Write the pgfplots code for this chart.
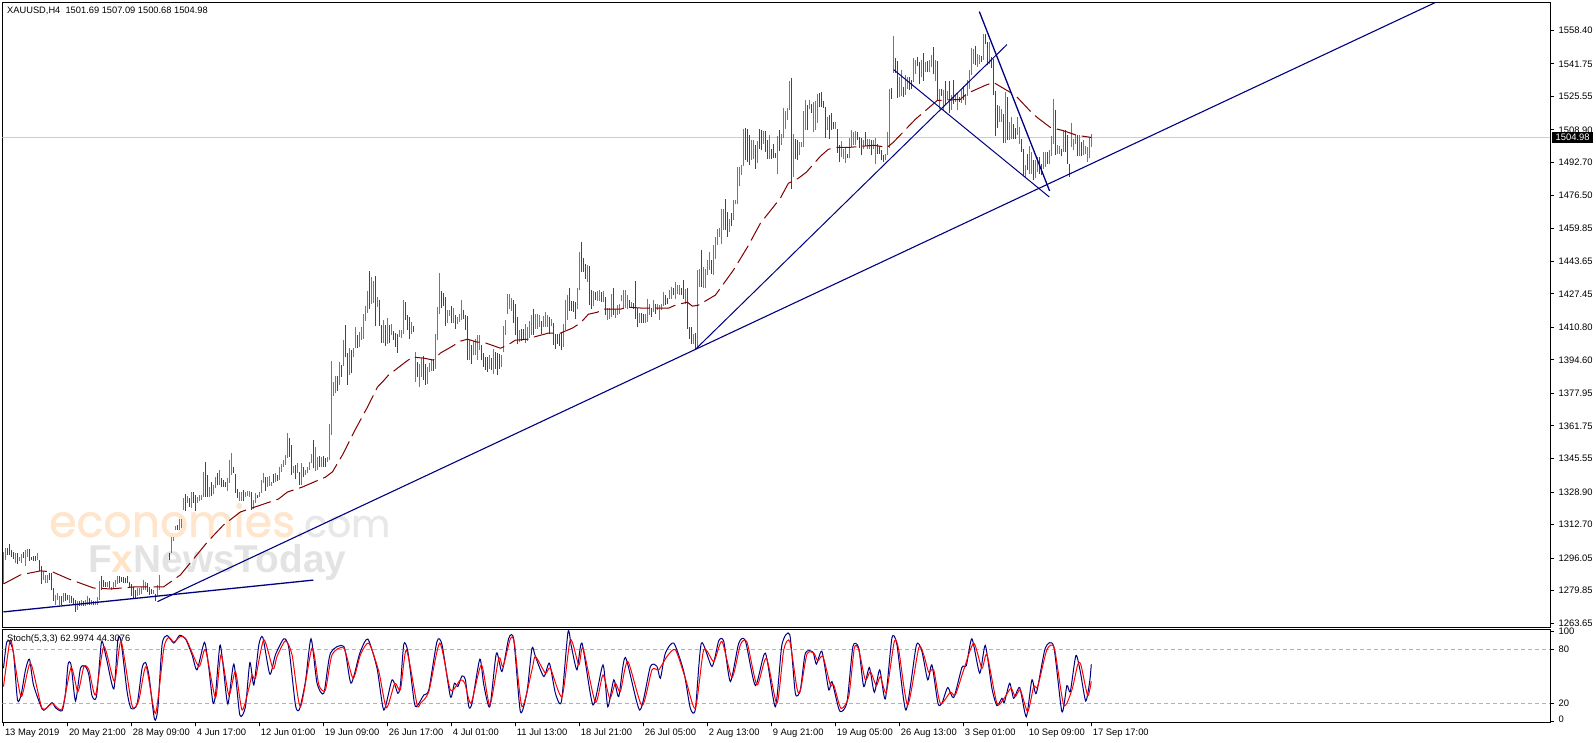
\documentclass[border=0pt]{standalone}
\usepackage{fontspec}
\setmainfont{Liberation Sans}
\newfontfamily\wmfont[FakeBold=1.2]{Poppins}
\usepackage{pgfplots}
\usepackage{pgfplotstable}
\pgfplotsset{compat=1.18}
\definecolor{upbar}{HTML}{4682B4}
\definecolor{dnbar}{HTML}{E80000}
\definecolor{ma}{HTML}{800000}
\definecolor{tl}{HTML}{000080}
\definecolor{lvl}{HTML}{ADD8E6}
\pgfplotstableread[row sep=\\]{
i l h c\\
0 1283.3 1299.3 1\\ 1 1294.9 1301.0 1\\ 2 1297.7 1301.0 0\\ 3 1297.7 1303.1 0\\ 4 1296.8 1300.2 0\\ 5 1295.7 1299.3 0\\ 6 1293.5 1298.5 1\\ 7 1293.2 1298.5 0\\ 8 1294.4 1296.8 1\\ 9 1293.5 1298.2 1\\
10 1296.0 1299.3 0\\ 11 1292.2 1300.2 1\\ 12 1296.8 1300.5 1\\ 13 1294.4 1300.5 0\\ 14 1295.2 1296.8 0\\ 15 1294.4 1297.2 0\\ 16 1294.4 1297.2 0\\ 17 1294.9 1298.5 1\\ 18 1289.4 1295.2 0\\ 19 1283.3 1291.9 0\\
20 1285.2 1289.4 1\\ 21 1283.6 1287.7 1\\ 22 1283.9 1287.7 1\\ 23 1285.2 1288.6 0\\ 24 1280.3 1288.6 0\\ 25 1274.5 1281.1 0\\ 26 1272.8 1277.8 1\\ 27 1275.0 1278.6 1\\ 28 1272.8 1277.0 1\\ 29 1272.5 1277.0 0\\
30 1274.0 1278.6 1\\ 31 1274.5 1278.6 0\\ 32 1275.3 1277.8 0\\ 33 1273.7 1277.8 1\\ 34 1273.7 1277.0 0\\ 35 1272.8 1276.1 0\\ 36 1269.0 1275.3 0\\ 37 1270.3 1274.6 1\\ 38 1272.3 1274.6 0\\ 39 1272.3 1275.3 1\\
40 1272.3 1274.6 0\\ 41 1272.3 1275.3 1\\ 42 1272.5 1277.0 1\\ 43 1272.8 1276.1 0\\ 44 1272.8 1275.3 1\\ 45 1272.5 1274.6 0\\ 46 1272.5 1274.6 1\\ 47 1272.5 1276.6 1\\ 48 1275.3 1284.9 1\\ 49 1280.3 1286.9 0\\
50 1281.9 1285.2 0\\ 51 1281.9 1284.4 0\\ 52 1281.9 1284.4 1\\ 53 1281.1 1284.9 0\\ 54 1280.3 1281.9 1\\ 55 1281.1 1284.4 1\\ 56 1281.9 1285.2 1\\ 57 1283.3 1287.2 1\\ 58 1283.6 1287.2 0\\ 59 1284.4 1286.6 0\\
60 1283.6 1286.6 0\\ 61 1283.6 1286.1 0\\ 62 1283.6 1286.9 0\\ 63 1281.1 1284.4 0\\ 64 1277.0 1283.3 0\\ 65 1275.8 1281.9 0\\ 66 1275.8 1280.3 0\\ 67 1277.0 1281.1 1\\ 68 1277.8 1281.1 1\\ 69 1278.3 1281.9 1\\
70 1280.3 1285.2 1\\ 71 1280.0 1284.4 1\\ 72 1279.0 1283.6 0\\ 73 1277.8 1281.9 0\\ 74 1278.3 1280.8 0\\ 75 1278.3 1280.3 1\\ 76 1274.5 1278.3 0\\ 77 1277.0 1282.8 1\\ 78 1280.3 1287.7 1\\
83 1295.2 1298.8 0\\ 84 1298.5 1306.4 1\\ 85 1304.3 1306.4 1\\ 86 1310.1 1312.1 1\\ 87 1310.1 1312.6 0\\ 88 1310.1 1315.4 1\\ 89 1310.9 1315.4 1\\
90 1320.0 1325.8 1\\ 91 1319.7 1328.0 0\\ 92 1323.3 1327.0 1\\ 93 1321.7 1325.8 0\\ 94 1320.9 1329.1 1\\ 95 1323.3 1329.1 0\\ 96 1319.5 1327.5 0\\ 97 1323.3 1326.6 1\\ 98 1324.2 1327.5 1\\ 99 1324.7 1327.5 1\\
100 1326.6 1338.7 1\\ 101 1326.6 1344.0 0\\ 102 1326.6 1337.4 0\\ 103 1326.6 1331.6 1\\ 104 1326.9 1334.0 0\\ 105 1327.9 1332.4 1\\ 106 1330.7 1336.5 1\\ 107 1332.4 1338.2 0\\ 108 1332.4 1339.8 1\\ 109 1331.6 1335.7 0\\
110 1331.6 1334.9 0\\ 111 1331.2 1334.0 0\\ 112 1329.6 1335.7 1\\ 113 1333.2 1344.8 1\\ 114 1337.4 1348.1 1\\ 115 1338.2 1341.5 0\\ 116 1328.2 1337.7 0\\ 117 1325.8 1330.4 0\\ 118 1324.6 1329.1 1\\ 119 1324.6 1329.1 1\\
120 1324.6 1329.9 0\\ 121 1326.6 1329.1 1\\ 122 1326.9 1329.6 1\\ 123 1326.6 1329.6 1\\ 124 1320.0 1329.1 0\\ 125 1320.3 1324.9 1\\ 126 1323.3 1328.2 1\\ 127 1325.8 1327.4 0\\ 128 1326.6 1329.1 1\\ 129 1328.2 1334.9 1\\
130 1333.5 1338.2 1\\ 131 1329.6 1336.2 0\\ 132 1331.2 1336.5 1\\ 133 1331.9 1336.8 1\\ 134 1331.9 1334.0 1\\ 135 1333.5 1337.9 0\\ 136 1334.0 1338.2 1\\ 137 1334.5 1337.4 0\\ 138 1334.9 1341.2 1\\ 139 1339.0 1342.8 1\\
140 1341.5 1344.8 1\\ 141 1342.3 1347.3 1\\ 142 1345.6 1358.4 1\\ 143 1346.5 1355.6 0\\ 144 1337.4 1352.3 0\\ 145 1338.2 1341.8 1\\ 146 1335.2 1342.3 0\\ 147 1338.2 1343.2 1\\ 148 1332.4 1339.0 0\\ 149 1332.4 1343.2 1\\
150 1336.5 1341.5 0\\ 151 1337.4 1339.8 1\\ 152 1338.2 1341.2 1\\ 153 1339.8 1344.0 1\\ 154 1343.2 1347.8 1\\ 155 1340.7 1354.7 0\\ 156 1339.5 1351.4 1\\ 157 1339.8 1346.5 1\\ 158 1341.5 1346.8 0\\ 159 1341.5 1346.5 1\\
160 1341.5 1346.8 0\\ 161 1341.2 1345.6 0\\ 162 1344.0 1346.5 1\\ 163 1344.8 1362.7 1\\ 164 1357.2 1394.2 1\\ 165 1376.6 1383.7 1\\ 166 1377.9 1386.5 1\\ 167 1379.2 1386.5 0\\ 168 1382.1 1393.6 1\\ 169 1386.2 1392.0 0\\
170 1391.5 1404.4 1\\ 171 1395.8 1411.9 0\\ 172 1382.1 1398.1 0\\ 173 1387.0 1400.3 1\\ 174 1388.2 1399.5 0\\ 175 1395.8 1400.3 1\\ 176 1400.3 1411.0 1\\ 177 1400.3 1406.9 0\\ 178 1400.8 1408.6 1\\ 179 1404.4 1410.7 1\\
180 1404.8 1417.3 1\\ 181 1414.0 1421.3 1\\ 182 1418.0 1428.9 1\\ 183 1419.8 1438.7 0\\ 184 1422.6 1435.9 1\\ 185 1423.0 1433.9 1\\ 186 1411.4 1436.2 0\\ 187 1421.0 1425.9 1\\ 188 1411.4 1424.3 0\\ 189 1403.1 1411.9 0\\
190 1403.1 1414.4 1\\ 191 1401.4 1411.9 0\\ 192 1402.4 1415.5 1\\ 193 1402.8 1411.9 0\\ 194 1406.9 1412.4 1\\ 195 1404.4 1409.1 0\\ 196 1401.1 1408.1 0\\ 197 1398.1 1407.4 0\\ 198 1406.1 1409.4 1\\ 199 1405.3 1409.4 1\\
200 1407.7 1424.6 1\\ 201 1414.4 1423.5 0\\ 202 1409.4 1416.8 0\\ 203 1404.8 1416.0 0\\ 204 1407.7 1413.5 1\\ 205 1408.6 1411.4 0\\ 206 1383.7 1398.3 1\\ 207 1386.2 1393.7 0\\ 208 1381.2 1392.5 1\\ 209 1385.9 1395.3 1\\
210 1384.5 1396.5 0\\ 211 1382.1 1392.8 0\\ 212 1382.6 1391.2 1\\ 213 1388.7 1393.2 1\\ 214 1389.2 1394.5 1\\ 215 1389.2 1395.0 0\\ 216 1390.3 1407.7 1\\ 217 1404.4 1421.0 1\\ 218 1417.3 1437.9 1\\ 219 1420.2 1428.9 0\\
220 1421.3 1428.1 0\\ 221 1411.4 1425.9 0\\ 222 1413.0 1419.3 1\\ 223 1416.3 1419.3 1\\ 224 1412.7 1421.3 0\\ 225 1412.7 1420.6 1\\ 226 1410.2 1416.8 0\\ 227 1412.3 1416.0 1\\ 228 1413.5 1417.3 1\\ 229 1414.3 1424.3 1\\
230 1414.7 1419.6 0\\ 231 1409.7 1416.8 0\\ 232 1394.4 1416.3 0\\ 233 1394.4 1404.4 1\\ 234 1392.8 1401.9 0\\ 235 1396.9 1404.1 1\\ 236 1396.9 1405.2 1\\ 237 1394.4 1406.9 1\\ 238 1399.4 1406.9 1\\ 239 1394.4 1401.9 0\\
240 1391.0 1397.8 0\\ 241 1389.5 1396.1 0\\ 242 1388.7 1396.1 0\\ 243 1390.3 1396.9 1\\ 244 1389.5 1395.3 0\\ 245 1387.8 1399.8 1\\ 246 1390.3 1398.6 0\\ 247 1387.0 1397.8 0\\ 248 1390.3 1397.4 0\\ 249 1391.1 1396.9 1\\
250 1398.6 1411.3 1\\ 251 1406.9 1414.3 1\\ 252 1417.6 1427.2 1\\ 253 1420.1 1427.2 1\\ 254 1419.0 1425.6 1\\ 255 1412.7 1424.3 0\\ 256 1406.9 1422.3 0\\ 257 1402.7 1416.0 0\\ 258 1403.6 1409.4 1\\ 259 1404.1 1410.2 0\\
260 1404.4 1410.2 0\\ 261 1403.1 1412.3 1\\ 262 1404.1 1410.7 1\\ 263 1405.7 1414.0 1\\ 264 1406.9 1416.8 1\\ 265 1406.9 1419.8 0\\ 266 1410.2 1417.3 1\\ 267 1410.2 1417.6 1\\ 268 1411.0 1416.8 1\\ 269 1407.7 1413.8 0\\
270 1411.0 1416.3 1\\ 271 1410.7 1418.5 1\\ 272 1411.0 1416.8 1\\ 273 1407.7 1416.0 0\\ 274 1411.3 1415.1 1\\ 275 1401.9 1413.0 0\\ 276 1400.2 1407.7 0\\ 277 1402.7 1407.7 0\\ 278 1401.4 1407.7 0\\ 279 1399.4 1408.0 0\\
280 1401.1 1412.3 1\\ 281 1409.4 1424.3 1\\ 282 1414.3 1426.7 1\\ 283 1419.0 1430.1 0\\ 284 1419.0 1423.8 0\\ 285 1418.5 1423.8 0\\ 286 1414.7 1423.4 0\\ 287 1420.1 1430.1 1\\ 288 1429.2 1448.3 1\\ 289 1438.3 1453.2 0\\
290 1438.3 1445.5 0\\ 291 1435.0 1442.5 0\\ 292 1433.4 1441.6 1\\ 293 1421.8 1441.1 0\\ 294 1420.1 1429.2 0\\ 295 1421.3 1428.9 1\\ 296 1424.3 1428.4 0\\ 297 1423.9 1428.9 1\\ 298 1423.8 1429.2 1\\ 299 1423.4 1428.4 0\\
300 1423.4 1428.9 1\\ 301 1416.8 1425.9 0\\ 302 1414.3 1420.6 1\\ 303 1415.1 1420.6 1\\ 304 1416.0 1427.2 1\\ 305 1416.8 1430.1 0\\ 306 1415.6 1420.1 1\\ 307 1416.8 1421.8 1\\ 308 1417.6 1422.3 1\\ 309 1423.9 1426.7 1\\
310 1420.6 1429.2 1\\ 311 1420.6 1429.2 1\\ 312 1420.1 1426.7 1\\ 313 1420.6 1424.3 0\\ 314 1420.6 1423.4 1\\ 315 1420.1 1422.9 0\\ 316 1415.1 1433.7 0\\ 317 1410.7 1420.6 0\\ 318 1413.0 1418.0 1\\ 319 1413.0 1418.0 0\\
320 1413.0 1417.6 0\\ 321 1413.0 1417.6 1\\ 322 1413.5 1424.8 1\\ 323 1416.8 1422.6 1\\ 324 1416.0 1420.6 0\\ 325 1418.5 1424.3 1\\ 326 1417.6 1422.6 0\\ 327 1419.6 1422.6 1\\ 328 1414.3 1421.8 1\\ 329 1419.6 1422.6 1\\
330 1421.3 1428.4 1\\ 331 1421.8 1426.7 0\\ 332 1422.6 1425.6 0\\ 333 1425.1 1429.2 1\\ 334 1425.1 1430.9 1\\ 335 1426.7 1430.1 0\\ 336 1425.1 1433.4 1\\ 337 1427.6 1431.7 1\\ 338 1426.7 1431.7 1\\ 339 1426.7 1430.1 0\\
340 1425.1 1434.2 0\\ 341 1422.6 1429.6 1\\ 342 1410.2 1430.1 0\\ 343 1405.2 1411.0 0\\ 344 1402.7 1411.0 0\\ 345 1402.7 1407.7 1\\ 346 1400.2 1408.2 0\\ 347 1400.2 1439.5 1\\ 348 1430.9 1440.0 1\\ 349 1430.9 1449.1 0\\
350 1430.1 1440.8 1\\ 351 1430.1 1440.0 1\\ 352 1436.7 1444.1 1\\ 353 1439.2 1448.3 1\\ 354 1437.5 1444.1 0\\ 355 1436.7 1451.6 1\\ 356 1445.0 1455.7 1\\ 357 1451.6 1459.9 1\\ 358 1455.7 1460.4 1\\ 359 1452.4 1469.5 1\\
360 1459.0 1469.5 1\\ 361 1459.4 1474.8 0\\ 362 1455.7 1468.2 0\\ 363 1458.2 1464.8 1\\ 364 1461.0 1467.7 0\\ 365 1464.0 1474.0 1\\ 366 1472.0 1474.0 1\\ 367 1472.3 1490.5 1\\ 368 1480.9 1490.5 1\\ 369 1486.4 1491.3 1\\
370 1490.8 1509.6 1\\ 371 1493.8 1510.0 0\\ 372 1493.0 1509.2 0\\ 373 1491.3 1506.2 0\\ 374 1494.2 1503.8 1\\ 375 1494.6 1503.8 1\\ 376 1489.7 1501.3 0\\ 377 1492.5 1503.3 1\\ 378 1499.6 1509.6 0\\ 379 1499.1 1508.7 0\\
380 1502.1 1508.4 1\\ 381 1498.0 1508.4 0\\ 382 1494.3 1503.8 0\\ 383 1494.6 1506.2 1\\ 384 1494.6 1499.6 0\\ 385 1495.1 1501.8 0\\ 386 1495.1 1497.5 0\\ 387 1486.9 1505.7 1\\ 388 1498.5 1508.7 0\\ 389 1501.3 1506.7 1\\
390 1505.1 1520.0 1\\ 391 1509.6 1518.3 1\\ 392 1514.0 1520.0 1\\ 393 1518.7 1533.2 1\\ 394 1479.7 1534.9 0\\ 395 1485.5 1507.1 1\\ 396 1494.6 1504.6 0\\ 397 1493.8 1503.8 0\\ 398 1496.3 1502.9 1\\ 399 1500.4 1502.9 1\\
400 1500.4 1518.3 1\\ 401 1508.7 1524.0 1\\ 402 1508.7 1521.1 0\\ 403 1519.5 1524.0 1\\ 404 1517.3 1522.0 0\\ 405 1507.9 1522.8 1\\ 406 1508.7 1523.3 1\\ 407 1512.4 1526.9 1\\ 408 1520.3 1527.3 0\\ 409 1520.3 1527.8 0\\
410 1520.0 1523.3 0\\ 411 1505.1 1520.3 0\\ 412 1508.7 1515.4 1\\ 413 1504.6 1516.2 0\\ 414 1508.7 1517.3 0\\ 415 1509.6 1512.9 0\\ 416 1509.6 1512.9 1\\ 417 1497.5 1509.6 0\\ 418 1493.0 1501.3 0\\ 419 1495.5 1503.4 1\\
420 1494.6 1499.6 1\\ 421 1492.5 1500.4 1\\ 422 1495.1 1497.1 0\\ 423 1495.1 1505.1 1\\ 424 1500.4 1508.7 1\\ 425 1501.3 1507.9 1\\ 426 1501.3 1508.4 1\\ 427 1503.8 1507.9 0\\ 428 1500.1 1505.4 0\\ 429 1496.3 1505.1 0\\
430 1499.6 1504.1 1\\ 431 1500.8 1507.9 0\\ 432 1499.6 1504.6 1\\ 433 1499.6 1504.6 1\\ 434 1496.3 1503.8 0\\ 435 1499.6 1504.1 1\\ 436 1491.8 1505.1 1\\ 437 1496.8 1502.1 0\\ 438 1496.8 1500.8 0\\ 439 1493.8 1498.8 0\\
440 1493.0 1496.3 0\\ 441 1493.8 1497.1 1\\ 442 1496.3 1507.9 1\\ 443 1500.1 1529.4 1\\ 444 1524.5 1529.9 0\\ 445 1537.2 1555.5 1\\ 446 1537.4 1544.7 0\\ 447 1524.8 1543.2 0\\ 448 1525.3 1535.3 1\\ 449 1525.6 1538.6 1\\
450 1525.3 1530.3 0\\ 451 1526.1 1536.1 1\\ 452 1529.5 1535.3 1\\ 453 1528.9 1535.3 0\\ 454 1529.5 1533.9 0\\ 455 1532.8 1544.7 1\\ 456 1536.9 1543.5 1\\ 457 1540.5 1545.2 0\\ 458 1531.9 1542.7 0\\ 459 1535.3 1543.5 1\\
460 1533.3 1547.2 0\\ 461 1537.7 1542.7 1\\ 462 1537.7 1543.2 0\\ 463 1537.7 1543.5 1\\ 464 1540.2 1546.0 1\\ 465 1536.6 1550.2 0\\ 466 1533.3 1543.5 1\\ 467 1523.7 1543.2 0\\ 468 1519.5 1529.5 1\\ 469 1525.6 1529.5 0\\
470 1519.0 1528.6 1\\ 471 1521.2 1533.3 0\\ 472 1523.7 1528.3 1\\ 473 1517.4 1533.3 0\\ 474 1519.0 1526.1 1\\ 475 1522.0 1533.9 0\\ 476 1522.8 1526.1 1\\ 477 1519.0 1527.3 1\\ 478 1522.8 1525.3 0\\ 479 1522.3 1529.5 1\\
480 1523.7 1530.6 0\\ 481 1521.2 1527.0 1\\ 482 1525.6 1533.9 1\\ 483 1529.5 1538.6 1\\ 484 1536.1 1549.8 1\\ 485 1541.9 1549.3 1\\ 486 1541.0 1550.5 0\\ 487 1540.2 1546.5 1\\ 488 1541.9 1546.0 1\\ 489 1542.7 1545.5 0\\
490 1543.5 1556.8 1\\ 491 1551.5 1556.8 0\\ 492 1541.0 1552.6 0\\ 493 1541.9 1552.6 1\\ 494 1539.9 1545.2 0\\ 495 1526.1 1544.4 0\\ 496 1505.9 1528.3 0\\ 497 1510.1 1521.2 0\\ 498 1512.9 1520.7 1\\ 499 1512.9 1519.5 1\\
500 1502.5 1517.0 0\\ 501 1502.5 1527.8 1\\ 502 1504.1 1525.3 0\\ 503 1504.1 1512.9 1\\ 504 1504.6 1515.4 1\\ 505 1504.6 1512.1 0\\ 506 1504.6 1510.1 0\\ 507 1506.3 1515.4 1\\ 508 1502.1 1510.4 1\\ 509 1498.0 1504.6 0\\
510 1486.4 1499.6 0\\ 511 1485.6 1491.4 1\\ 512 1488.9 1497.2 0\\ 513 1487.2 1500.8 1\\ 514 1487.2 1498.0 1\\ 515 1483.9 1493.9 0\\ 516 1484.8 1493.9 1\\ 517 1488.1 1495.5 1\\ 518 1487.2 1495.5 0\\ 519 1486.4 1492.2 0\\
520 1489.7 1498.0 1\\ 521 1490.5 1498.0 1\\ 522 1492.2 1498.0 0\\ 523 1491.9 1498.8 1\\ 524 1495.8 1505.8 1\\ 525 1501.8 1524.2 1\\ 526 1496.3 1518.7 0\\ 527 1497.2 1501.3 1\\ 528 1497.2 1500.8 1\\ 529 1495.8 1499.6 0\\
530 1498.0 1508.8 1\\ 531 1498.0 1508.8 0\\ 532 1492.2 1506.3 0\\ 533 1485.6 1491.9 0\\ 534 1500.5 1512.4 1\\ 535 1498.8 1504.6 1\\ 536 1501.8 1506.3 1\\ 537 1495.8 1506.3 0\\ 538 1495.8 1506.3 1\\ 539 1495.8 1503.0 0\\
540 1496.3 1503.8 1\\ 541 1497.2 1500.8 1\\ 542 1493.0 1500.5 1\\ 543 1495.2 1505.4 1\\ 544 1500.68 1507.09 1\\
}\bars
\pgfplotsset{
  chart/.style={
    scale only axis, width=1548bp, xmin=-0.5, xmax=773.5,
    axis line style={black,line width=1bp},
    ytick pos=right, yticklabel pos=right, tick align=outside,
    major tick length=4bp, tick style={black,line width=1bp},
    ticklabel style={font=\fontsize{9.4bp}{11bp}\selectfont},
    yticklabel style={anchor=west,xshift=1bp},
  }
}
\begin{document}
\begin{tikzpicture}[x=1bp,y=1bp]
\path (0,0) rectangle (1596,743);
% watermark (behind the chart)
\node[anchor=base west,inner sep=0,text=orange!20!white] at (49,206) {\resizebox{246bp}{!}{\wmfont\fontsize{50}{50}\selectfont economies}};
\node[anchor=base west,inner sep=0,text=black!9] at (296,206) {\resizebox{94bp}{!}{\wmfont\fontsize{50}{50}\selectfont .com}};
\node[anchor=base west,inner sep=0] at (88,170) {\resizebox{258bp}{!}{\fontsize{40}{40}\selectfont\bfseries\textcolor{black!11}{F}\textcolor{orange!22!white}{x}\textcolor{black!11}{NewsToday}}};
\begin{axis}[chart, at={(2.5bp,115.5bp)}, anchor=south west, height=625bp,
  ymin=1261.6, ymax=1572.3, xtick=\empty,
  ytick={1558.40,1541.75,1525.55,1508.90,1492.70,1476.50,1459.85,1443.65,1427.45,1410.80,1394.60,1377.95,1361.75,1345.55,1328.90,1312.70,1296.05,1279.85,1263.65},
  yticklabels={1558.40,1541.75,1525.55,1508.90,1492.70,1476.50,1459.85,1443.65,1427.45,1410.80,1394.60,1377.95,1361.75,1345.55,1328.90,1312.70,1296.05,1279.85,1263.65},
  unbounded coords=discard]
\addplot[lvl,line width=1bp,forget plot] coordinates {(-0.5,1504.98) (773.5,1504.98)};
\addplot[draw=none,mark=none,forget plot,error bars/.cd,y dir=plus,y explicit,error mark=none,error bar style={upbar,line width=1bp}]
  table[x=i,y expr={\thisrow{c}>0 ? \thisrow{l} : nan},y error plus expr={\thisrow{h}-\thisrow{l}}] {\bars};
\addplot[draw=none,mark=none,forget plot,error bars/.cd,y dir=plus,y explicit,error mark=none,error bar style={dnbar,line width=1bp}]
  table[x=i,y expr={\thisrow{c}<1 ? \thisrow{l} : nan},y error plus expr={\thisrow{h}-\thisrow{l}}] {\bars};
% moving average
\addplot[ma,line width=1bp,dash pattern=on 20bp off 6bp,forget plot] coordinates {
(0,1283.2)(8.5,1287.7)(18.5,1289.7)(24.5,1289.2)(32.5,1285.7)(45,1281.2)(53.5,1280.7)(65,1281.7)(80,1281.7)(88.5,1287.7)(102,1304.1)(110,1312.5)(118.5,1319)(137.5,1325.4)(142,1328.9)(149.5,1331.4)(161,1336.3)(164.5,1338.9)(169.5,1347.3)(175.5,1359.2)(182,1371.1)(187,1381.1)(189.5,1383.6)(192.5,1387.0)(201,1393.5)(204.5,1396.0)(210,1395.5)(215,1394.5)(218.5,1398.0)(224.5,1401.4)(228.5,1403.9)(232,1404.9)(237,1403.4)(240,1403.4)(248.5,1400.4)(252,1401.9)(256,1404.4)(262.5,1404.9)(265,1405.9)(272.5,1407.9)(278.5,1407.9)(284.5,1410.4)(288.5,1412.9)(292.5,1417.3)(297,1418.3)(300,1419.8)(308.5,1419.8)(312,1420.8)(320,1420.3)(332.5,1420.3)(336,1421.8)(342,1423.3)(344.5,1421.3)(347.5,1421.8)(356,1426.8)(365,1439.2)(372,1450.6)(378.5,1462.5)(388.5,1475.0)(392.5,1482.4)(397.5,1484.9)(401.5,1487.9)(408.5,1495.8)(412.5,1499.3)(417,1500.3)(423.5,1500.3)(435,1501.3)(442,1500.3)(445,1502.8)(456,1514.2)(467,1523.6)(478.5,1524.1)(482,1527.1)(491,1531.1)(495,1532.6)(503.5,1527.6)(507,1525.1)(514.5,1517.2)(517.5,1514.7)(523.5,1510.2)(529.5,1508.7)(537,1506.2)(544,1505.2)};
% trend lines
\addplot[tl,line width=1.1bp,forget plot] coordinates {(77,1274.4)(346,1399.8)(716.5,1572.5)};
\addplot[tl,line width=1.3bp,forget plot] coordinates {(0,1269.3)(154.9,1285.1)};
\addplot[tl,line width=1bp,forget plot] coordinates {(346,1399.8)(501.85,1551.4)};
\addplot[tl,line width=1bp,forget plot] coordinates {(445.15,1538.9)(523,1475.6)};
\addplot[tl,line width=1.3bp,forget plot] coordinates {(488,1567.8)(523.15,1478.6)};
\end{axis}
\begin{axis}[chart, at={(2.5bp,20.5bp)}, anchor=south west, height=93bp,
  ymin=-1.1, ymax=101.8, ytick={0,20,80,100}, yticklabels={\raisebox{4bp}{0},20,80,\raisebox{-4bp}{100}},
  xtick pos=bottom, xticklabel pos=bottom,
  xtick={0,32,64,96,128,160,192,224,256,288,320,352,384,416,448,480,512,544},
  xticklabels={13 May 2019,20 May 21:00,28 May 09:00,4 Jun 17:00,12 Jun 01:00,19 Jun 09:00,26 Jun 17:00,4 Jul 01:00,11 Jul 13:00,18 Jul 21:00,26 Jul 05:00,2 Aug 13:00,9 Aug 21:00,19 Aug 05:00,26 Aug 13:00,3 Sep 01:00,10 Sep 09:00,17 Sep 17:00},
  xticklabel style={anchor=north west,xshift=-2bp,yshift=1bp}]
\addplot[black!30,line width=0.8bp,dash pattern=on 4bp off 3bp,forget plot] coordinates {(-0.5,80)(773.5,80)};
\addplot[black!30,line width=0.8bp,dash pattern=on 4bp off 3bp,forget plot] coordinates {(-0.5,20)(773.5,20)};
\addplot[tl,line width=1bp,smooth,tension=0.4,forget plot] coordinates {
(0,58.8)(1.5,86.6)(3,88.5)(5,75.5)(7,23.7)(8.8,29.2)(11,57)(13,68.8)(15,40.3)(19.3,13.7)(21,13.7)(24.3,20.7)(26,15.1)(29.3,11.8)(31,31.1)(32.3,63.3)(33.8,62.5)(36,22.5)(38.5,58.8)(41,60.7)(42.7,51.4)(44.3,28.1)(46.5,27.4)(48.8,84.8)(49.7,86.6)(51.8,66.3)(55.2,35.9)(57.2,90.3)(58.8,88.5)(61.8,32.9)(63.8,14.4)(66.8,18.8)(69.3,58.8)(71,65.1)(72.7,51.4)(75.5,2.5)(77.2,14.4)(79.3,84.8)(81.8,95.1)(85.2,86.6)(88,95.1)(91,91.4)(94.3,73.7)(96.8,57)(100.5,87.4)(102.7,58.8)(104.7,21.1)(106,29.2)(108.2,84)(109.8,62.5)(112.2,19.2)(115.2,63.3)(118.2,7)(121,16.2)(123.2,65.1)(125.2,40.3)(127.7,84.8)(129.7,92.9)(133.2,52.2)(136,73.7)(140.2,91.4)(142.7,81.1)(146,18.1)(148,13.3)(151,44)(153.8,91.4)(156.8,42.2)(160.2,31.1)(163.5,75.5)(170.2,82.9)(173.8,42.2)(178.2,75.5)(182.2,91.1)(186.8,58.8)(190.2,12.5)(194.3,45.9)(197.2,31.1)
(198.5,40.3)(200.2,85.5)(202.2,77.4)(205.5,20)(207.2,18.1)(210.2,29.2)(212.7,34.8)(216.8,88.5)(219.3,84.8)(223.5,27.4)(225.5,42.2)(227.2,38.5)(229.3,50.3)(231,45.9)(232.7,16.2)(234.3,20)(238.2,68.8)(240.2,40.3)(243.2,16.2)(246.5,75.5)(249.3,55.1)(252.7,92.2)(255.2,90.3)(258.5,10.7)(261.8,32.9)(264.3,81.1)(266,71.8)(270.2,49.6)(273,64.4)(276,31.1)(279,21.8)(282.3,98.8)(284,82.9)(286.8,57)(289.3,86.6)(294.8,18.1)(299.8,62.5)(302.2,16.2)(305.2,45.9)(307.7,27.4)(311,70.7)(318.2,12.5)(323.5,60.7)(326.8,60.7)(328.5,47.7)(331,75.5)(335.2,86.6)(340.2,55.1)(343.5,14.4)(346,13.3)(349,86.6)(354.3,60.7)(357.7,89.2)(360.2,88.5)(363.5,44)(367.7,86.6)(371,89.2)(376,39.6)(381,75.5)(386,16.2)(389.3,84.8)(393.2,95.9)(396,31.1)
(398.5,34.8)(401,75.5)(404.8,76.6)(406.5,63.3)(409.3,77.4)(412.7,34.8)(414.3,44)(418.2,11.4)(421.8,21.1)(424.8,82.9)(427.7,81.1)(430.2,38.5)(433,59.6)(435.5,32.2)(438.2,57)(441,24.8)(444.3,92.2)(446.8,84.8)(451.3,12.5)(456.5,84)(459.3,77.4)(462.2,45.9)(464.3,62.5)(467.3,20)(469.3,20)(472.2,37.4)(475.2,26.3)(479.3,59.6)(481.5,61.8)(484.3,91.4)(488.2,53.3)(491,84)(494.3,36.6)(496.8,17.4)(499.3,25.5)(500.5,21.1)(503.2,42.2)(505.2,25.5)(508.2,37.4)(511.5,5.1)(514.3,45.9)(516.5,31.1)(521,81.1)(525.2,82.9)(529.3,10.7)(531.8,39.6)(533.5,32.9)(536.3,72.9)(538.5,55.1)(541.2,22.5)(543.2,44)(544,63)};
\addplot[red,line width=1bp,smooth,tension=0.4,forget plot] coordinates {
(0,38.5)(3,86.6)(4.3,84.8)(8.8,27.4)(13.5,64.4)(19.3,14.4)(24.3,20)(29.3,13.7)(33.8,59.6)(37.2,32.9)(40.2,60.7)(42.7,57)(46,29.2)(50.2,82.9)(55.5,44)(58.8,88.5)(64.3,17.4)(67.7,23.7)(71.3,60.7)(76,8.8)(80.2,81.1)(82.7,92.9)(85.2,87.7)(88.5,94)(91.5,90.3)(97.7,60.7)(101,79.2)(106,26.3)(108.8,73.7)(112.7,29.2)(116,55.1)(119.3,12.5)(122.7,36.6)(124.3,51.4)(126,47.7)(130.2,90.3)(134.8,58.1)(136.8,71.8)(141,89.2)(144.3,73.7)(148.5,16.2)(154.3,81.1)(157.7,40.3)(161,34.8)(164.3,73.7)(170.2,81.1)(174.8,47.7)(178.5,73.7)(182.7,86.6)(187.7,55.1)(191.5,15.1)(195.7,42.2)
(198.5,34.8)(201.5,79.2)(206.8,18.8)(208.5,20)(212.7,32.9)(218.2,86.6)(223.5,34.8)(228.5,45.9)(230.7,42.2)(233.8,20)(239,62.6)(243.2,18.1)(247.7,70)(249.8,60.7)(253.5,91.5)(255.5,86.6)(259.3,16.2)(264.3,57)(266,71.8)(271,53.3)(273.5,58.8)(279.3,27.4)(283.5,90.3)(287.7,62.5)(289.8,81.1)(296,21.1)(299.8,51.4)(303.2,25.5)(306,42.2)(308.5,32.9)(312.2,66.3)(319.3,17.4)(324.3,57)(327.7,57)(331.8,71.8)(336,79.2)(341,47.7)(346,14.4)(350.2,79.2)(355.2,66.3)(359.3,88.5)(364.3,48.5)(368.5,84.8)(371.8,87.7)(376.8,40.3)(381.5,70)(386.8,20)(390.2,79.2)(393.2,88.5)(396.8,36.6)
(398.5,33.7)(401.8,74.4)(405.2,75.5)(407.2,67)(409.8,71.8)(413.5,40.3)(415.2,40.3)(418.8,14.4)(422.7,27.4)(425.5,81.1)(427.7,79.2)(431,45.9)(433.5,55.1)(436.5,39.6)(438.5,49.6)(441.5,32.2)(445.5,88.5)(447.7,79.2)(452.2,18.1)(457.7,81.1)(460.2,73.7)(462.7,54.4)(465.2,57)(468.5,20)(473.5,32.2)(476,29.2)(480.2,57)(485.2,86.6)(489.3,58.8)(491.8,73.7)(496.8,20)(500.2,24.8)(503.8,36.6)(506,27.4)(508.5,34.8)(512.2,10.7)(515.2,38.5)(517.2,38.5)(521.8,79.2)(525.5,81.1)(530.2,18.1)(534.3,34.8)(537.2,62.6)(538.8,62.6)(542.2,28.5)(544,44.3)};
\end{axis}
% captions and the current price box
\node[anchor=base west,inner sep=0,font=\fontsize{9.3bp}{11bp}\selectfont] at (7,729) {XAUUSD,H4\ \ 1501.69 1507.09 1500.68 1504.98};
\node[anchor=base west,inner sep=0,font=\fontsize{9.3bp}{11bp}\selectfont] at (7,101) {Stoch(5,3,3) 62.9974 44.3076};
\node[anchor=west,fill=black,text=white,inner sep=0,minimum width=40.5bp,minimum height=11bp,font=\fontsize{9.4bp}{11bp}\selectfont] at (1552.5,605.3) {1504.98};
\end{tikzpicture}
\end{document}
